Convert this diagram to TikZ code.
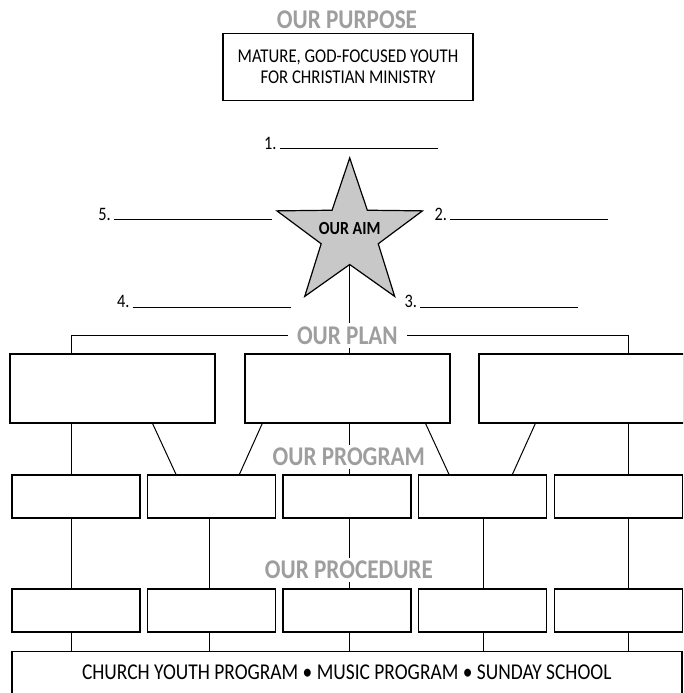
\documentclass[tikz,border=0pt]{standalone}
\usepackage{fontspec}
\setmainfont{Carlito}[FakeStretch=0.86]
\usetikzlibrary{shapes.geometric}
\definecolor{headgray}{RGB}{158,158,158}
\definecolor{stargray}{RGB}{200,200,200}
\newcommand{\blankline}{\rule{158pt}{0.9pt}}
\begin{document}
\begin{tikzpicture}[x=1pt,y=-1pt,
  box/.style={draw, line width=1.5pt, inner sep=0pt},
  planbox/.style={box, minimum width=205pt, minimum height=69pt},
  slot/.style={box, minimum width=128pt, minimum height=43pt},
  head/.style={fill=white, text=headgray, font=\fontsize{27}{27}\selectfont\bfseries, inner xsep=9pt, inner ysep=3pt},
  blank/.style={anchor=base west, inner sep=0pt, font=\fontsize{19}{19}\selectfont},
  link/.style={line width=1pt}]
\clip (0,0) rectangle (683,693);
\coordinate (c1) at (71.9,0);
\coordinate (c2) at (209,0);
\coordinate (c3) at (349.7,0);
\coordinate (c4) at (483.9,0);
\coordinate (c5) at (628.5,0);
\node[head] (purpose) at (347,19.5){OUR PURPOSE};
\node[box, minimum width=250pt, minimum height=67pt, align=center, font=\fontsize{19.5}{21}\selectfont] (purposebox) at (348,67){MATURE, GOD-FOCUSED YOUTH\\FOR CHRISTIAN MINISTRY};
\node[star, star points=5, star point ratio=2.55, minimum size=153pt, inner sep=0pt, draw, line width=1.2pt, fill=stargray] (aim) at (349.7,234.5){};
\node[font=\fontsize{18.5}{18.5}\selectfont\bfseries] (aimtext) at (349.7,228){OUR AIM};
\node[blank] (aim1) at (264,149.3){1.\,\blankline};
\node[blank] (aim2) at (434.3,220){2.\,\blankline};
\node[blank] (aim3) at (404.4,307.7){3.\,\blankline};
\node[blank] (aim4) at (116.8,307.7){4.\,\blankline};
\node[blank] (aim5) at (98.2,220){5.\,\blankline};
\node[head] (plantext) at (347.4,335.5){OUR PLAN};
\node[planbox] (plan1) at (112.4,388.5){};
\node[planbox] (plan2) at (347.4,388.5){};
\node[planbox] (plan3) at (581.5,388.5){};
\node[head] (progtext) at (348.8,456.7){OUR PROGRAM};
\node[slot] (prog1) at (75.8,496.5){};
\node[slot] (prog2) at (211.7,496.5){};
\node[slot] (prog3) at (347.1,496.5){};
\node[slot] (prog4) at (482.7,496.5){};
\node[slot] (prog5) at (618.3,496.5){};
\node[head] (proctext) at (348.9,570){OUR PROCEDURE};
\node[slot] (proc1) at (75.8,610.5){};
\node[slot] (proc2) at (211.7,610.5){};
\node[slot] (proc3) at (347.1,610.5){};
\node[slot] (proc4) at (482.7,610.5){};
\node[slot] (proc5) at (618.3,610.5){};
\node[box, minimum width=670pt, minimum height=42pt, font=\fontsize{22.6}{22.6}\selectfont] (church) at (346.75,672.7){CHURCH YOUTH PROGRAM \textbullet{} MUSIC PROGRAM \textbullet{} SUNDAY SCHOOL};
\draw[link] (aim) -- (aim |- plantext.north);
\draw[link] (plantext.south -| c3) -- (plan2.north -| c3);
\draw[link] (plan1.north -| c1) |- (plantext.west);
\draw[link] (plantext.east) -| (plan3.north -| c5);
\draw[link] (plan1.south -| c1) -- (prog1.north -| c1);
\draw[link] ([xshift=-63pt]plan1.south east) -- ([xshift=29pt]prog2.north west);
\draw[link] ([xshift=18pt]plan2.south west) -- ([xshift=-37pt]prog2.north east);
\draw[link] (plan2.south -| c3) -- (progtext.north -| c3);
\draw[link] (progtext.south -| c3) -- (prog3.north -| c3);
\draw[link] ([xshift=-25pt]plan2.south east) -- ([xshift=31pt]prog4.north west);
\draw[link] ([xshift=57pt]plan3.south west) -- ([xshift=-35pt]prog4.north east);
\draw[link] (plan3.south -| c5) -- (prog5.north -| c5);
\draw[link] (prog1.south -| c1) -- (proc1.north -| c1);
\draw[link] (prog2.south -| c2) -- (proc2.north -| c2);
\draw[link] (prog3.south -| c3) -- (proctext.north -| c3);
\draw[link] (proctext.south -| c3) -- (proc3.north -| c3);
\draw[link] (prog4.south -| c4) -- (proc4.north -| c4);
\draw[link] (prog5.south -| c5) -- (proc5.north -| c5);
\draw[link] (proc1.south -| c1) -- (church.north -| c1);
\draw[link] (proc2.south -| c2) -- (church.north -| c2);
\draw[link] (proc3.south -| c3) -- (church.north -| c3);
\draw[link] (proc4.south -| c4) -- (church.north -| c4);
\draw[link] (proc5.south -| c5) -- (church.north -| c5);
\end{tikzpicture}
\end{document}
